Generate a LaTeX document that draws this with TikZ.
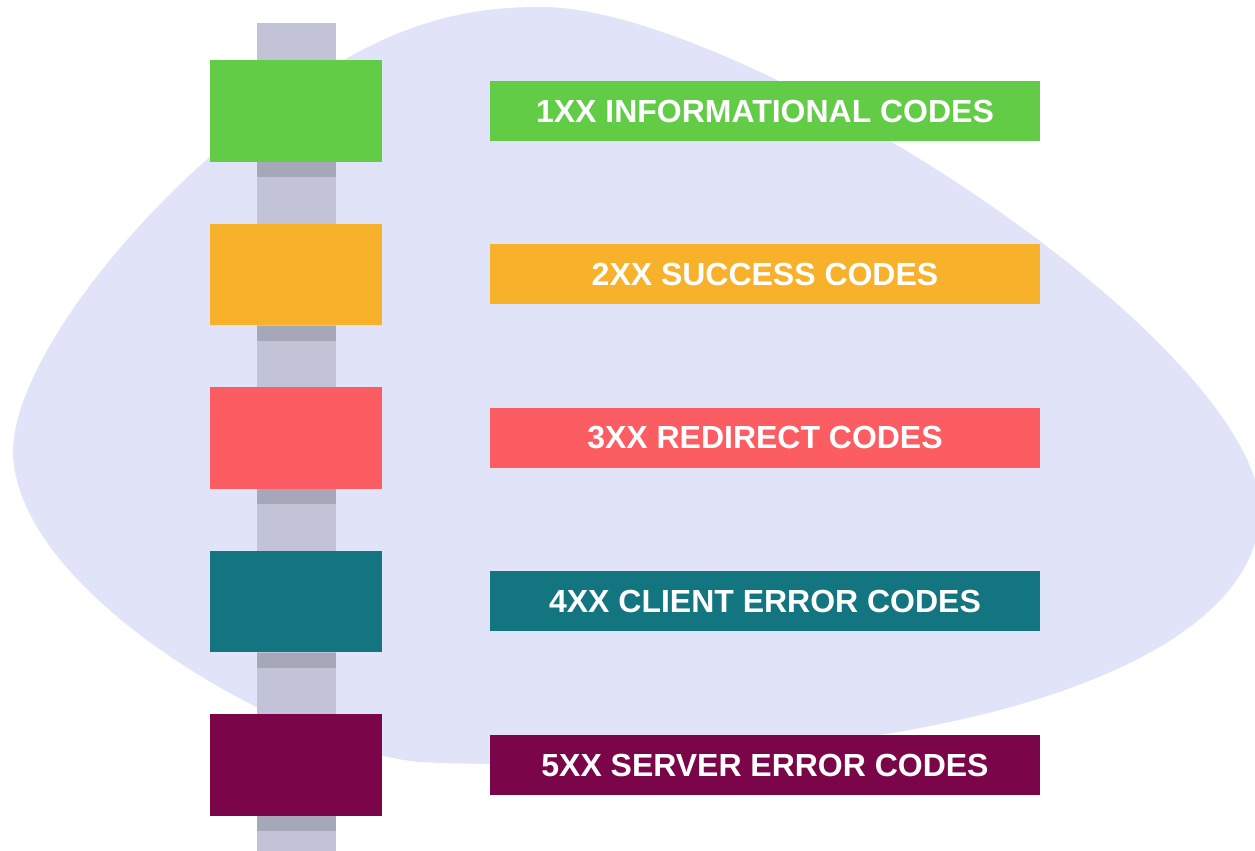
\documentclass[tikz,border=0pt]{standalone}
\usepackage{fontspec}
\setmainfont{Liberation Sans}
\begin{document}
\begin{tikzpicture}[x=0.02cm, y=-0.02cm,
  blob/.style={fill=blobcol},
  pole/.style={fill=polecol},
  poleshade/.style={fill=shadecol},
  codebox/.style={rectangle, inner sep=0pt, minimum width=3.44cm, minimum height=2.04cm},
  codebar/.style={rectangle, inner sep=0pt, minimum width=11cm, minimum height=1.2cm,
    text=white, font=\bfseries\fontsize{18.2}{20}\selectfont}]
  \definecolor{blobcol}{HTML}{E1E3F9}
  \definecolor{polecol}{HTML}{C2C3D6}
  \definecolor{shadecol}{HTML}{A6A7B8}
  \definecolor{c1}{HTML}{62CC46}
  \definecolor{c2}{HTML}{F8B12B}
  \definecolor{c3}{HTML}{FC5D62}
  \definecolor{c4}{HTML}{12757F}
  \definecolor{c5}{HTML}{7A0649}

  \useasboundingbox (0,0) rectangle (1255,851);
  \fill[white] (0,0) rectangle (1255,851);

  % soft background shape
  \begin{scope}
    \clip (0,0) rectangle (1255,851);
    \fill[blob] (540,7)
      .. controls (730,5) and (1232,320) .. (1260,500)
      .. controls (1268,620) and (1100,700) .. (880,735)
      .. controls (720,760) and (540,768) .. (420,762)
      .. controls (300,752) and (20,600) .. (13,455)
      .. controls (10,360) and (160,170) .. (330,68)
      .. controls (400,26) and (460,7) .. (540,7) -- cycle;
  \end{scope}

  % vertical pole
  \fill[pole] (257,23) rectangle (336,851);

  % coloured blocks on the pole
  \node[codebox, fill=c1] (b1) at (296,111) {};
  \node[codebox, fill=c2] (b2) at (296,274.5) {};
  \node[codebox, fill=c3] (b3) at (296,438) {};
  \node[codebox, fill=c4] (b4) at (296,601.5) {};
  \node[codebox, fill=c5] (b5) at (296,765) {};

  % darker band of pole below each block
  \foreach \b in {b1,b2,b3,b4,b5}
    \fill[poleshade] (\b.south) ++(-39.5,0) rectangle ++(79,15);

  % labels
  \node[codebar, fill=c1] (l1) at (765,111) {1XX INFORMATIONAL CODES};
  \node[codebar, fill=c2] (l2) at (765,274) {2XX SUCCESS CODES};
  \node[codebar, fill=c3] (l3) at (765,438) {3XX REDIRECT CODES};
  \node[codebar, fill=c4] (l4) at (765,601) {4XX CLIENT ERROR CODES};
  \node[codebar, fill=c5] (l5) at (765,765) {5XX SERVER ERROR CODES};
\end{tikzpicture}
\end{document}
